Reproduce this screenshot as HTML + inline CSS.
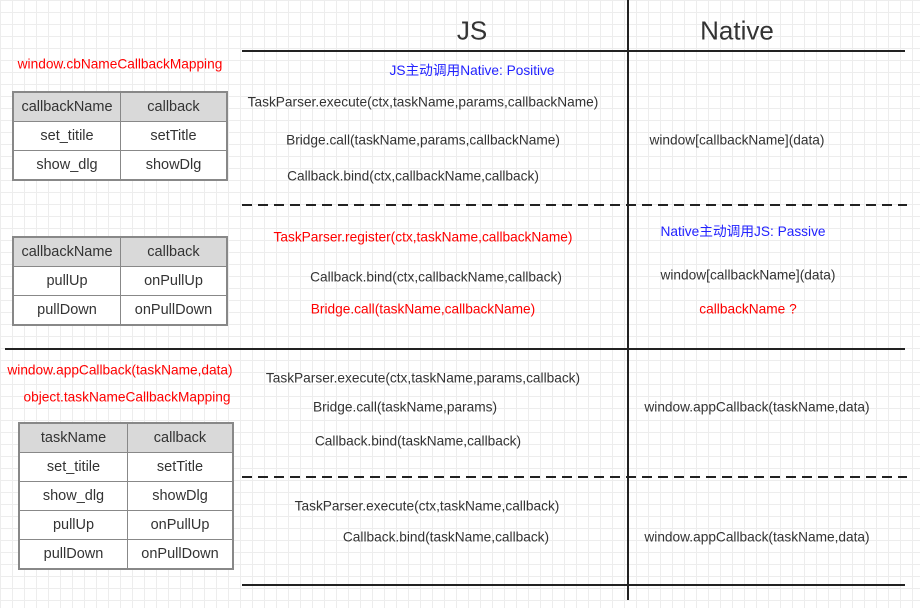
<!DOCTYPE html>
<html><head><meta charset="utf-8"><style>
body{margin:0;width:920px;height:608px;overflow:hidden;background:#fff;
background-image:linear-gradient(#ededed 1px,transparent 1px),linear-gradient(90deg,#ededed 1px,transparent 1px);background-size:12px 12px;
font-family:"Liberation Sans","Noto Sans CJK SC",sans-serif;position:relative;color:#333}
.t{position:absolute;transform:translate(-50%,-50%);white-space:nowrap;font-size:13.7px;color:#333}
.r{color:#f00}.b{color:#22f}
.h{position:absolute;height:2px;background:#222}
.d{position:absolute;height:2px;background:repeating-linear-gradient(90deg,#222 0 10px,transparent 10px 16px)}
table{position:absolute;border-collapse:collapse;border:2px solid #888;font-size:14.5px;background:#fff}
td{border:1px solid #888;text-align:center;padding:0;height:28px;color:#333}
tr:first-child td{background:#d9d9d9}
</style></head><body>
<div class="h" style="left:242px;top:50px;width:663px"></div>
<div style="position:absolute;left:627px;top:0;width:2px;height:600px;background:#222"></div>
<div class="d" style="left:242px;top:204px;width:665px"></div>
<div class="h" style="left:5px;top:348px;width:900px"></div>
<div class="d" style="left:242px;top:476px;width:665px"></div>
<div class="h" style="left:242px;top:584px;width:663px"></div>

<div class="t" style="left:472px;top:31px;font-size:26px">JS</div>
<div class="t" style="left:737px;top:31px;font-size:26px">Native</div>
<div class="t r" style="left:120px;top:64px">window.cbNameCallbackMapping</div>
<div class="t b" style="left:472px;top:69px">JS主动调用Native: Positive</div>
<div class="t" style="left:423px;top:102px">TaskParser.execute(ctx,taskName,params,callbackName)</div>
<div class="t" style="left:423px;top:140px">Bridge.call(taskName,params,callbackName)</div>
<div class="t" style="left:737px;top:140px">window[callbackName](data)</div>
<div class="t" style="left:413px;top:176px">Callback.bind(ctx,callbackName,callback)</div>
<div class="t r" style="left:423px;top:237px">TaskParser.register(ctx,taskName,callbackName)</div>
<div class="t b" style="left:743px;top:230px">Native主动调用JS: Passive</div>
<div class="t" style="left:436px;top:277px">Callback.bind(ctx,callbackName,callback)</div>
<div class="t" style="left:748px;top:275px">window[callbackName](data)</div>
<div class="t r" style="left:423px;top:309px">Bridge.call(taskName,callbackName)</div>
<div class="t r" style="left:748px;top:309px">callbackName ?</div>
<div class="t r" style="left:120px;top:370px">window.appCallback(taskName,data)</div>
<div class="t r" style="left:127px;top:397px">object.taskNameCallbackMapping</div>
<div class="t" style="left:423px;top:378px">TaskParser.execute(ctx,taskName,params,callback)</div>
<div class="t" style="left:405px;top:407px">Bridge.call(taskName,params)</div>
<div class="t" style="left:757px;top:407px">window.appCallback(taskName,data)</div>
<div class="t" style="left:418px;top:441px">Callback.bind(taskName,callback)</div>
<div class="t" style="left:427px;top:506px">TaskParser.execute(ctx,taskName,callback)</div>
<div class="t" style="left:446px;top:537px">Callback.bind(taskName,callback)</div>
<div class="t" style="left:757px;top:537px">window.appCallback(taskName,data)</div>

<table style="left:12px;top:91px;width:216px">
<tr><td style="width:106px">callbackName</td><td>callback</td></tr>
<tr><td>set_titile</td><td>setTitle</td></tr>
<tr><td>show_dlg</td><td>showDlg</td></tr></table>
<table style="left:12px;top:236px;width:216px">
<tr><td style="width:106px">callbackName</td><td>callback</td></tr>
<tr><td>pullUp</td><td>onPullUp</td></tr>
<tr><td>pullDown</td><td>onPullDown</td></tr></table>
<table style="left:18px;top:422px;width:216px">
<tr><td style="width:107px">taskName</td><td>callback</td></tr>
<tr><td>set_titile</td><td>setTitle</td></tr>
<tr><td>show_dlg</td><td>showDlg</td></tr>
<tr><td>pullUp</td><td>onPullUp</td></tr>
<tr><td>pullDown</td><td>onPullDown</td></tr></table>
</body></html>
